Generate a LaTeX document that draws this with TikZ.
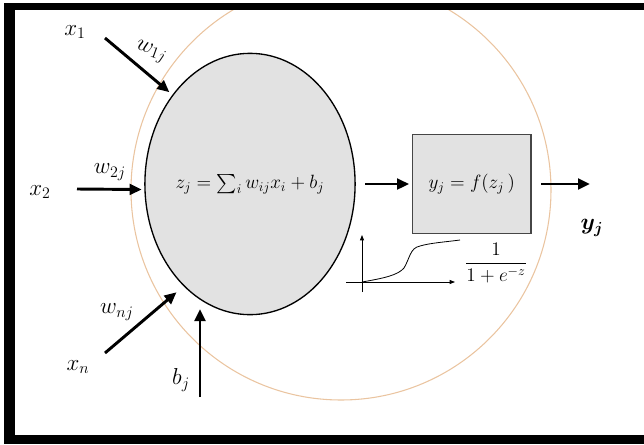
\documentclass[tikz,border=0pt]{standalone}
\usepackage{amsmath}
\usepackage{amsfonts}
\usepackage{bm}
\usepackage{tikz}
\usetikzlibrary{positioning, arrows.meta, shapes.geometric}
\usepackage{xcolor}
\definecolor{ringorange}{RGB}{234,196,160}
\definecolor{cellgray}{RGB}{226,226,226}
\definecolor{boxline}{RGB}{70,70,70}

\begin{document}
\begin{tikzpicture}[x=0.75pt,y=-0.75pt,>={Triangle[length=9pt,width=8pt]},
    inarrow/.style={->,line width=2.2pt,shorten >=2pt},
    lbl/.style={font=\LARGE,inner sep=1pt},
    cell/.style={ellipse,draw,fill=cellgray,line width=1pt,minimum width=154.5pt,minimum height=196pt,inner sep=0pt,font=\Large},
    actbox/.style={rectangle,draw=boxline,fill=cellgray,line width=1pt,minimum width=89pt,minimum height=74pt,font=\Large}]
  \useasboundingbox (0,0) rectangle (644,444);

  % ring round the neuron
  \begin{scope}
    \clip (15,10) rectangle (644,435);
    \draw[ringorange, line width=0.8pt] (341,190) circle (210);
  \end{scope}

  % frame
  \fill (4,3) rectangle (644,10);
  \fill (4,3) rectangle (15,444);
  \fill (4,435) rectangle (644,444);

  % neuron and activation
  \node[cell] (neuron) at (250,184) {$z_j = \sum_i w_{ij} x_i + b_j$};
  \node[actbox] (act) [right=42pt of neuron] {$y_j = f(z_j\,)$};
  \coordinate (yend) at (590,184);
  \node[lbl] (yj) at (592,228) {$\bm{y_j}$};

  \draw[inarrow, shorten <=7pt] (neuron) -- (act);
  \draw[inarrow, shorten <=7pt, shorten >=0pt] (act) -- (yend);

  % inputs
  \node[lbl] (x1) at (75,32) {$x_1$};
  \node[lbl] (x2) at (40,192) {$x_2$};
  \node[lbl] (xn) at (78,367) {$x_n$};
  \node[lbl] (bj) at (181,380) {$b_j$};
  \coordinate (x1s) at (105,38);
  \coordinate (x2s) at (77,189);
  \coordinate (xns) at (105,353);
  \coordinate (bs) at (200,397);

  \draw[inarrow, shorten >=3pt] (x1s) -- (neuron.131);
  \draw[inarrow] (x2s) -- (neuron.183);
  \draw[inarrow, shorten >=7pt] (xns) -- (neuron.237);
  \draw[inarrow, shorten >=4pt] (bs) -- (bs |- neuron.250);

  \node[lbl, rotate=-20] (w1) at (151,52) {$w_{1j}$};
  \node[lbl] (w2) at (110,172) {$w_{2j}$};
  \node[lbl] (wn) at (117,312) {$w_{nj}$};

  % sigmoid sketch
  \draw[-{Triangle[length=4pt,width=3pt]}, line width=0.6pt] (362,292) -- (362,235);
  \draw[-{Triangle[length=4pt,width=3pt]}, line width=0.6pt] (346,282) -- (455,282);
  \draw[line width=0.6pt] (362,282) .. controls (385,278) and (398,275) .. (404,268)
      .. controls (410,258) and (410,248) .. (420,246)
      .. controls (430,243) and (445,242) .. (460,240);
  \node[font=\Large] (sig) at (496,263) {$\dfrac{1}{1+e^{-z}}$};
\end{tikzpicture}
\end{document}
